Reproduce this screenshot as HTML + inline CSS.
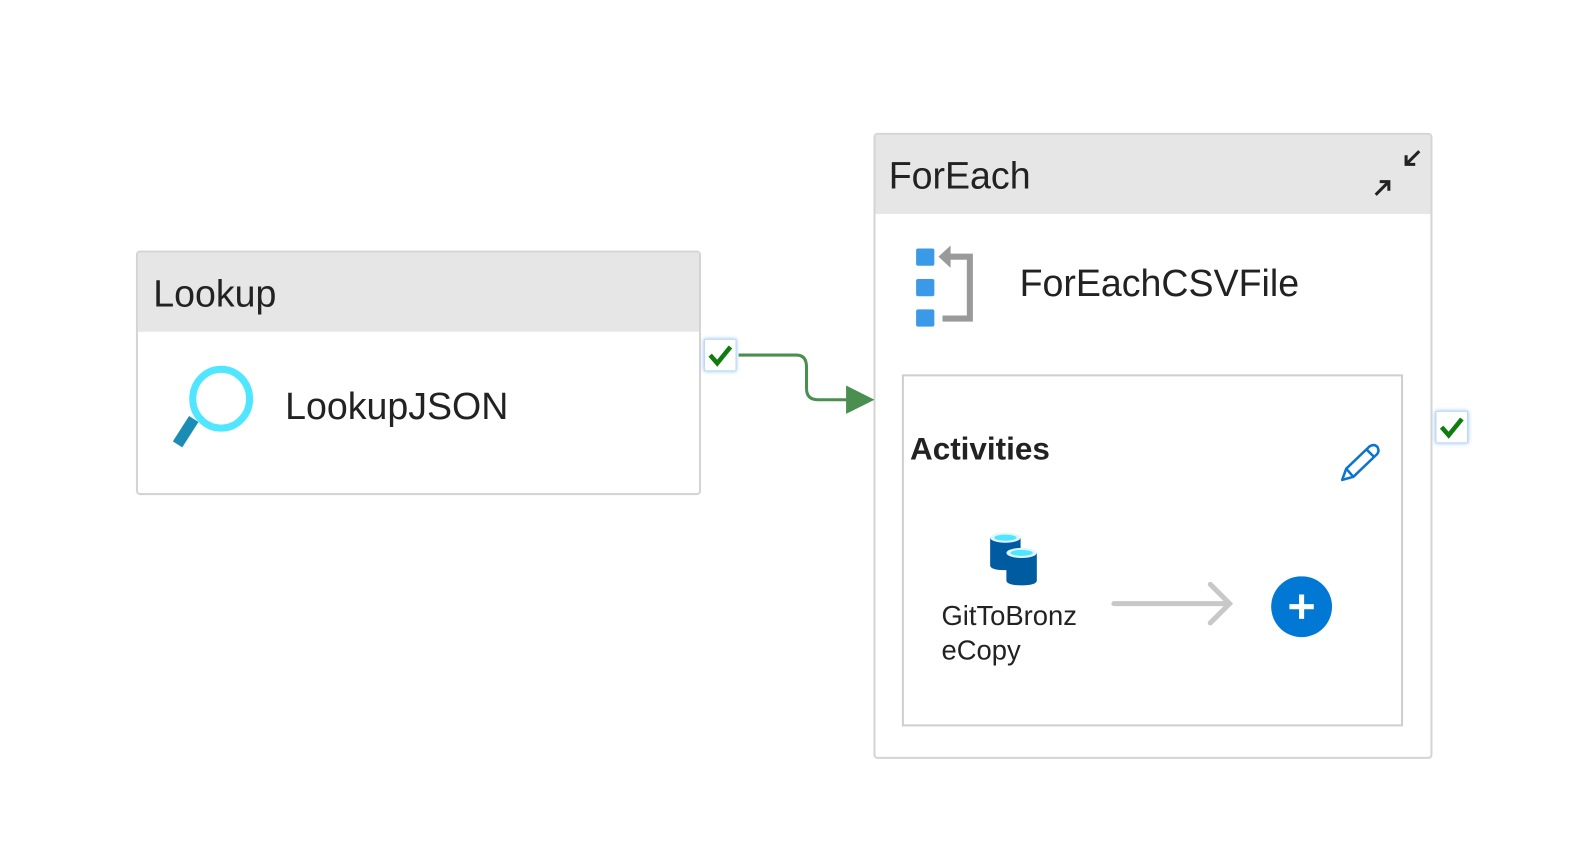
<!DOCTYPE html>
<html><head><style>
body{margin:0;width:1590px;height:841px;background:#fff;position:relative;overflow:hidden;font-family:"Liberation Sans",sans-serif;color:#222}
#w{position:absolute;left:0;top:0;width:1590px;height:841px;transform:scale(1.0145);transform-origin:0 0}
.box{position:absolute;border:2px solid #d4d4d4;border-radius:4px;background:#fff;box-sizing:border-box}
.hdr{position:absolute;left:0;right:0;top:0;background:#e6e6e6}
.t{position:absolute;white-space:nowrap}
.chk{position:absolute;width:32px;height:32px;background:#fff;border:1px solid #bcd8f5;box-shadow:0 0 4px #7fb6ee;box-sizing:border-box}
</style></head><body><div id="w">
<div class="box" style="left:134px;top:247px;width:557px;height:241px">
 <div class="hdr" style="height:78px"></div>
 <div class="t" style="left:15px;top:20px;font-size:37px">Lookup</div>
 <div class="t" style="left:145px;top:131px;font-size:37px">LookupJSON</div>
</div>
<svg style="position:absolute;left:165px;top:358px" width="90" height="90">
 <line x1="26" y1="55" x2="10" y2="80" stroke="#1b8db5" stroke-width="11"/>
 <ellipse cx="53" cy="35" rx="28" ry="29" fill="none" stroke="#50e6ff" stroke-width="7"/>
</svg>
<div class="box" style="left:861px;top:131px;width:551px;height:617px">
 <div class="hdr" style="height:78px"></div>
 <div class="t" style="left:13px;top:20px;font-size:37px">ForEach</div>
 <div class="t" style="left:142px;top:126px;font-size:37px">ForEachCSVFile</div>
</div>
<svg style="position:absolute;left:1350px;top:145px" width="55" height="55">
 <path d="M6 47 L19 34 M10 34 H19 V43" stroke="#222" stroke-width="3" fill="none"/>
 <path d="M49 4 L36 17 M36 8 V17 H45" stroke="#222" stroke-width="3" fill="none"/>
</svg>
<svg style="position:absolute;left:900px;top:240px" width="70" height="85">
 <rect x="3" y="5" width="18" height="17" rx="2" fill="#3a9ae8"/>
 <rect x="3" y="35" width="18" height="17" rx="2" fill="#3a9ae8"/>
 <rect x="3" y="65" width="18" height="17" rx="2" fill="#3a9ae8"/>
 <path d="M29 74 H56 V13 H36" stroke="#9a9a9a" stroke-width="6" fill="none"/>
 <path d="M25 13 L37 2 V24 Z" fill="#9a9a9a"/>
</svg>
<div style="position:absolute;left:889px;top:369px;width:494px;height:347px;border:2px solid #cfcfcf;box-sizing:border-box"></div>
<div class="t" style="left:897px;top:425px;font-size:31px;font-weight:bold">Activities</div>
<svg style="position:absolute;left:1315px;top:435px" width="50" height="45">
 <path d="M8 38 L12 27 L35 5 Q40 2 43 6 Q45 10 42 13 L19 35 Z M12 27 L19 35 M32 8 L40 16" stroke="#0a74d0" stroke-width="2.5" fill="none" stroke-linejoin="round"/>
</svg>
<svg style="position:absolute;left:970px;top:520px" width="60" height="62">
 <path d="M6 10 V37 Q6 42 21 42 Q36 42 36 37 V10 Z" fill="#005ba1"/>
 <ellipse cx="21" cy="10" rx="15" ry="5" fill="#dff6ff"/><ellipse cx="21" cy="10" rx="11" ry="3" fill="#50e6ff"/>
 <path d="M22 25 V52 Q22 57 37 57 Q52 57 52 52 V25 Z" fill="#005ba1"/>
 <ellipse cx="37" cy="25" rx="15" ry="5" fill="#dff6ff"/><ellipse cx="37" cy="25" rx="11" ry="3" fill="#50e6ff"/>
</svg>
<div class="t" style="left:928px;top:590px;font-size:27px;line-height:34px">GitToBronz<br>eCopy</div>
<svg style="position:absolute;left:1095px;top:568px" width="230" height="64">
 <path d="M3 27 H117 M98 8 L117 27 L98 46" stroke="#c8c8c8" stroke-width="5" fill="none" stroke-linecap="round"/>
 <circle cx="188" cy="30" r="30" fill="#0078d4"/>
 <path d="M188 18 V42 M176 30 H200" stroke="#fff" stroke-width="5"/>
</svg>
<svg style="position:absolute;left:720px;top:340px" width="145" height="75">
 <path d="M8 10 H65 Q75 10 75 22 V43 Q75 54 86 54 H118" stroke="#4a8f50" stroke-width="3" fill="none"/>
 <path d="M114 40 L142 54 L114 68 Z" fill="#4a8f50"/>
</svg>
<div class="chk" style="left:694px;top:334px"></div>
<div class="chk" style="left:1415px;top:405px"></div>
<svg style="position:absolute;left:694px;top:334px" width="32" height="32"><path d="M6 16 L13 24 L26 8" stroke="#107c10" stroke-width="4.5" fill="none"/></svg>
<svg style="position:absolute;left:1415px;top:405px" width="32" height="32"><path d="M6 16 L13 24 L26 8" stroke="#107c10" stroke-width="4.5" fill="none"/></svg>
</div></body></html>
